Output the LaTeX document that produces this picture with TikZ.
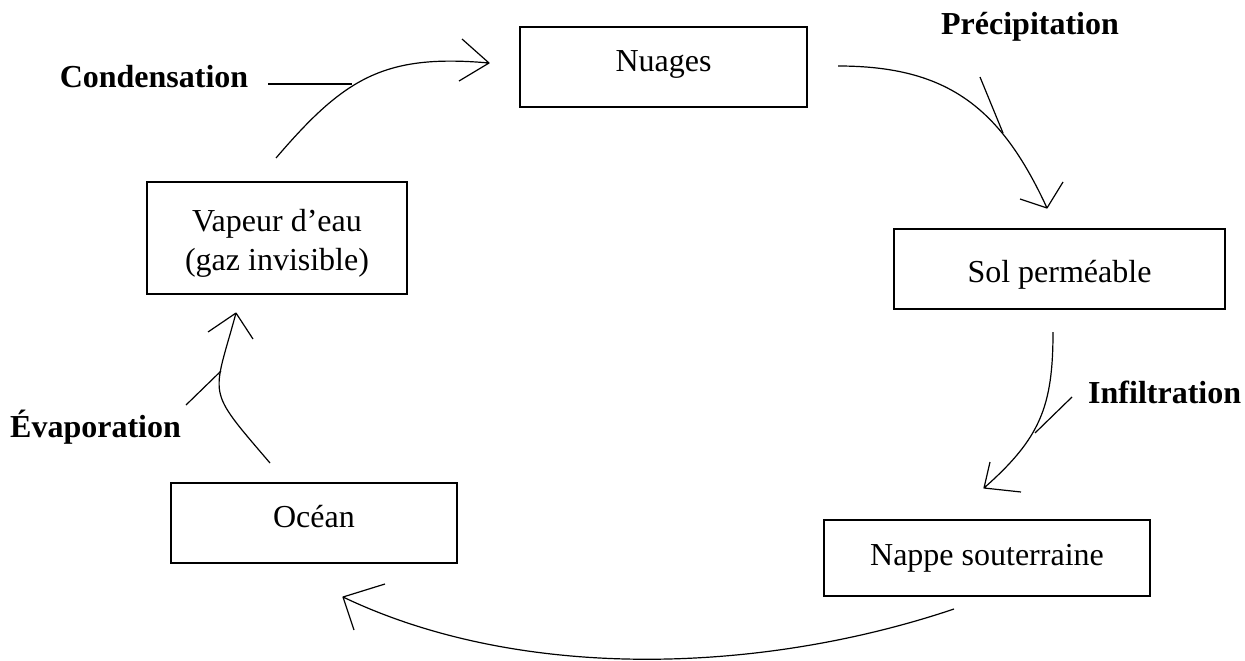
\documentclass[tikz,border=0pt]{standalone}
\usepackage{fontspec}
\setmainfont{Liberation Serif}
\usetikzlibrary{calc}
\begin{document}
\begin{tikzpicture}[x=1pt,y=-1pt]
\tikzset{
  box/.style={draw, line width=2pt, inner sep=0pt, outer sep=0pt, align=center,
              font=\fontsize{32}{39}\selectfont},
  oneline/.style={text height=22pt, text depth=8pt},
  lbl/.style={inner sep=0pt, font=\fontsize{32}{39}\selectfont\bfseries},
  flow/.style={line width=1.2pt, line join=round},
  lead/.style={line width=1.2pt},
}
\fill[white] (0,0) rectangle (1245,661);
\useasboundingbox (0,0) rectangle (1245,661);

% boxes
\node[box, oneline, minimum width=287pt, minimum height=80pt, text depth=12pt] (nuages) at (663.5,67) {Nuages};
\node[box, minimum width=260pt, minimum height=112pt, text height=66pt, text depth=2pt] (vapeur) at (277,238) {Vapeur d’eau\\(gaz invisible)};
\node[box, oneline, minimum width=331pt, minimum height=80pt, text height=30pt, text depth=4pt] (sol) at (1059.5,269) {Sol perméable};
\node[box, oneline, minimum width=286pt, minimum height=80pt, text depth=14pt] (ocean) at (314,523) {Océan};
\node[box, oneline, minimum width=326pt, minimum height=76pt] (nappe) at (987,558) {Nappe souterraine};

% labels
\node[lbl, anchor=base] (lcond) at (154,88) {Condensation};
\node[lbl, anchor=base] (lprec) at (1030,35) {Précipitation};
\node[lbl, anchor=base west] (linf) at (1088,403) {Infiltration};
\node[lbl, anchor=base west] (levap) at (10,437) {Évaporation};

% leader lines
\coordinate (k1a) at (268,84);   \coordinate (k1b) at (352,84);
\coordinate (k2a) at (980,77);   \coordinate (k2b) at (1003,133);
\coordinate (k3a) at (1072,397); \coordinate (k3b) at (1035,433);
\coordinate (k4a) at (186,405);  \coordinate (k4b) at (221,371);
\draw[lead] (k1a) -- (k1b);
\draw[lead] (k2a) -- (k2b);
\draw[lead] (k3a) -- (k3b);
\draw[lead] (k4a) -- (k4b);

% connector end points
\coordinate (c1s) at ($(vapeur.north)+(-1,-24)$);
\coordinate (c1t) at ($(nuages.west)+(-31,-4)$);
\coordinate (c2s) at ($(nuages.east)+(31,-1)$);
\coordinate (c2t) at ($(sol.north)+(-12.5,-21)$);
\coordinate (c3s) at ($(sol.south)+(-6.5,23)$);
\coordinate (c3t) at ($(nappe.north)+(-3,-32)$);
\coordinate (c4s) at ($(nappe.south)+(-33,13)$);
\coordinate (c4t) at ($(ocean.south)+(29,34)$);
\coordinate (c5s) at ($(ocean.north)+(-44,-20)$);
\coordinate (c5t) at ($(vapeur.south)+(-41,19)$);

% connectors with open heads
\draw[flow] (c1s) .. controls +(68.3,-79.8) and +(-105,-9.4) .. (c1t)
            -- +(-27,-24) (c1t) -- +(-30,18);
\draw[flow] (c2s) .. controls +(110,0) and +(-46.2,-100.1) .. (c2t)
            -- +(-27,-9) (c2t) -- +(16,-26);
\draw[flow] (c3s) .. controls +(0,75) and +(56,-49.5) .. (c3t)
            -- +(6,-26) (c3t) -- +(37,4);
\draw[flow] (c4s) .. controls +(-190,64) and +(180,86) .. (c4t)
            -- +(42,-13) (c4t) -- +(11,33);
\draw[flow] (c5s) .. controls +(-65,-76) and +(-23.4,86.4) .. (c5t)
            -- +(-28,19) (c5t) -- +(17,26);
\end{tikzpicture}
\end{document}
